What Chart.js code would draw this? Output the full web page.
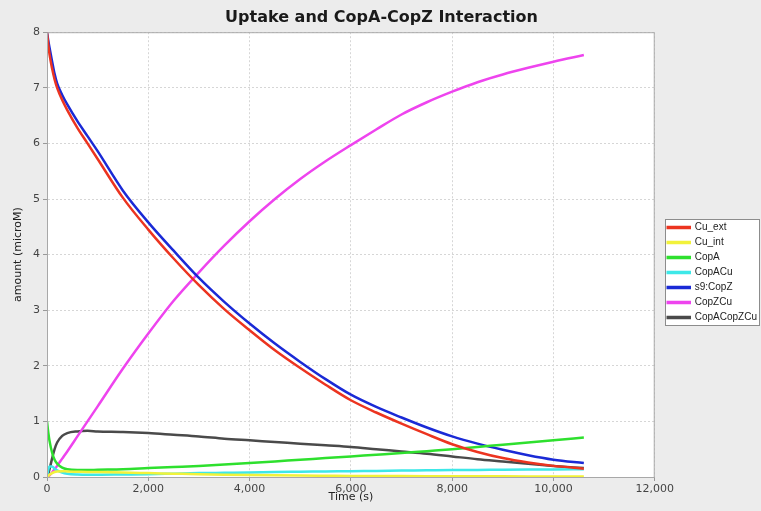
<!DOCTYPE html>
<html>
<head>
<meta charset="utf-8">
<script src="https://cdn.jsdelivr.net/npm/chart.js@4.4.0/dist/chart.umd.min.js"></script>
<style>
  body { margin: 0; background: #ececec; }
  canvas { display: block; }
</style>
</head>
<body>
<canvas id="myChart" width="761" height="511"></canvas>
<script>
// time points (s)
const time = [0, 25, 50, 100, 150, 200, 300, 400, 600, 800, 1000, 1500, 2000, 2500, 3000,
  3500, 4000, 4500, 5000, 5500, 6000, 6500, 7000, 7500, 8000, 8500, 9000, 9500, 10000, 10600];

// amounts (microM)
const cuExt = [8.00, 7.78, 7.60, 7.35, 7.15, 7.00, 6.78, 6.60, 6.28, 6.00, 5.72, 5.02, 4.45, 3.93, 3.45,
  3.02, 2.64, 2.28, 1.96, 1.66, 1.38, 1.16, 0.96, 0.77, 0.59, 0.45, 0.34, 0.26, 0.20, 0.15];
const cuInt = [0, 0.02, 0.04, 0.07, 0.09, 0.10, 0.105, 0.10, 0.095, 0.09, 0.088, 0.08, 0.07, 0.06, 0.05,
  0.042, 0.035, 0.03, 0.026, 0.023, 0.02, 0.018, 0.016, 0.015, 0.014, 0.013, 0.012, 0.011, 0.01, 0.01];
const copA = [1.00, 0.80, 0.65, 0.44, 0.31, 0.24, 0.17, 0.14, 0.125, 0.125, 0.13, 0.14, 0.16, 0.18, 0.20,
  0.225, 0.25, 0.28, 0.31, 0.34, 0.37, 0.40, 0.43, 0.465, 0.50, 0.54, 0.58, 0.62, 0.66, 0.71];
const copACu = [0, 0.13, 0.19, 0.19, 0.15, 0.12, 0.08, 0.06, 0.045, 0.04, 0.04, 0.045, 0.05, 0.06, 0.07,
  0.075, 0.08, 0.09, 0.095, 0.10, 0.105, 0.11, 0.115, 0.12, 0.125, 0.128, 0.131, 0.134, 0.137, 0.14];
const s9CopZ = [8.00, 7.85, 7.72, 7.48, 7.25, 7.08, 6.87, 6.70, 6.40, 6.13, 5.86, 5.15, 4.58, 4.07, 3.58,
  3.15, 2.76, 2.40, 2.07, 1.76, 1.48, 1.26, 1.07, 0.89, 0.73, 0.60, 0.49, 0.39, 0.31, 0.25];
const copZCu = [0, 0.01, 0.03, 0.08, 0.14, 0.20, 0.33, 0.46, 0.73, 1.00, 1.27, 1.95, 2.58, 3.17, 3.68,
  4.16, 4.60, 5.00, 5.36, 5.68, 5.97, 6.25, 6.52, 6.74, 6.93, 7.10, 7.24, 7.36, 7.47, 7.59];
const copACopZCu = [0, 0.06, 0.14, 0.33, 0.50, 0.62, 0.74, 0.79, 0.82, 0.83, 0.82, 0.81, 0.79, 0.76, 0.73,
  0.69, 0.66, 0.63, 0.60, 0.57, 0.54, 0.50, 0.46, 0.42, 0.37, 0.32, 0.28, 0.24, 0.20, 0.16];

const seriesNames = ["Cu_ext", "Cu_int", "CopA", "CopACu", "s9:CopZ", "CopZCu", "CopACopZCu"];
const seriesValues = [cuExt, cuInt, copA, copACu, s9CopZ, copZCu, copACopZCu];
const seriesColors = ["#ec3420", "#f2f23a", "#2ee02e", "#3de8e8", "#1a2ad6", "#ee44ee", "#4a4a4a"];

const datasets = seriesNames.map((name, k) => ({
  label: name,
  data: time.map((t, i) => ({ x: t, y: seriesValues[k][i] })),
  borderColor: seriesColors[k],
  backgroundColor: seriesColors[k],
  borderWidth: 2.5,
  pointRadius: 0,
  fill: false,
  cubicInterpolationMode: "monotone",
}));

// white plot area, grey frame, boxed legend
const plotFrame = {
  id: "plotFrame",
  afterLayout(chart) {
    // nudge the legend away from the plot and down a bit
    const lg = chart.legend;
    lg.left += 8; lg.right += 8;
    lg.top += 19; lg.bottom += 19;
  },
  beforeDraw(chart) {
    const { ctx, chartArea: a } = chart;
    ctx.save();
    ctx.fillStyle = "#ffffff";
    ctx.fillRect(a.left, a.top, a.right - a.left, a.bottom - a.top);
    ctx.restore();
  },
  afterDraw(chart) {
    const { ctx, chartArea: a } = chart;
    ctx.save();
    ctx.strokeStyle = "#a8a8a8";
    ctx.lineWidth = 1;
    ctx.strokeRect(a.left + 0.5, a.top + 0.5, a.right - a.left - 1, a.bottom - a.top);
    const boxes = chart.legend.legendHitBoxes;
    if (boxes && boxes.length) {
      let l = Infinity, t = Infinity, r = -Infinity, b = -Infinity;
      boxes.forEach(h => {
        l = Math.min(l, h.left); t = Math.min(t, h.top);
        r = Math.max(r, h.left + h.width); b = Math.max(b, h.top + h.height);
      });
      l = Math.round(l - 3) + 0.5; t = Math.round(t - 4) + 0.5;
      r = Math.min(Math.round(r + 3), 760) - 0.5; b = Math.round(b + 3) - 0.5;
      ctx.fillStyle = "#ffffff";
      ctx.strokeStyle = "#8c8c8c";
      ctx.globalCompositeOperation = "destination-over";
      ctx.fillRect(l, t, r - l, b - t);
      ctx.globalCompositeOperation = "source-over";
      ctx.strokeRect(l, t, r - l, b - t);
    }
    ctx.restore();
  },
};

const ctx = document.getElementById("myChart").getContext("2d");
new Chart(ctx, {
  type: "line",
  data: { datasets: datasets },
  plugins: [plotFrame],
  options: {
    responsive: false,
    animation: false,
    layout: { padding: { left: 4, right: 2, top: 0, bottom: 4 } },
    plugins: {
      tooltip: { enabled: false },
      title: {
        display: true,
        text: "Uptake and CopA-CopZ Interaction",
        color: "#1a1a1a",
        font: { family: "DejaVu Sans", size: 16, weight: "bold" },
        padding: { top: 8, bottom: 5 },
      },
      legend: {
        position: "right",
        labels: {
          boxWidth: 22,
          boxHeight: 1,
          padding: 5,
          color: "#222",
          font: { family: "Liberation Sans", size: 10 },
        },
      },
    },
    scales: {
      x: {
        type: "linear",
        min: 0,
        max: 12000,
        afterFit(scale) { scale.height = 30; },
        ticks: { stepSize: 2000, color: "#444", padding: 2, font: { family: "DejaVu Sans", size: 11 } },
        grid: { color: "#d6d6d6", tickLength: 4, tickColor: "#999", tickBorderDash: [] },
        border: { color: "#a8a8a8", dash: [2, 2] },
        title: { display: true, text: "Time (s)", color: "#222", padding: { top: 0, bottom: 3 },
          font: { family: "DejaVu Sans", size: 11 } },
      },
      y: {
        min: 0,
        max: 8,
        afterFit(scale) { scale.width = 43; },
        ticks: { stepSize: 1, color: "#444", padding: 3, font: { family: "DejaVu Sans", size: 11 } },
        grid: { color: "#d6d6d6", tickLength: 4, tickColor: "#999", tickBorderDash: [] },
        border: { color: "#a8a8a8", dash: [2, 2] },
        title: { display: true, text: "amount (microM)", color: "#222", padding: { top: 8, bottom: 0 },
          font: { family: "DejaVu Sans", size: 11 } },
      },
    },
  },
});
</script>
</body>
</html>
